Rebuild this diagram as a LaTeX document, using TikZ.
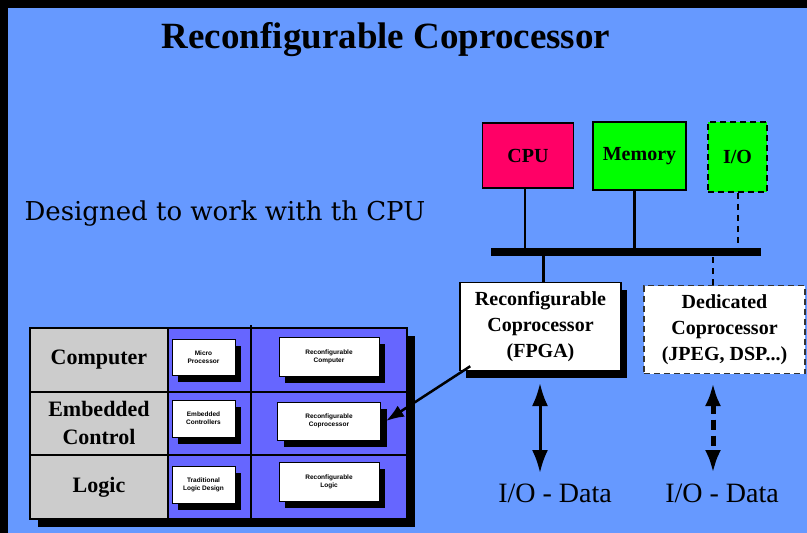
\documentclass[tikz,border=0pt]{standalone}
\usepackage{fontspec}
\setmainfont{Liberation Serif}
\newfontfamily\slabfont{DejaVu Serif}
\newfontfamily\cellfont{Liberation Sans}
\usetikzlibrary{arrows.meta,shadows}
\definecolor{slide}{RGB}{102,153,255}
\definecolor{gridblue}{RGB}{102,102,255}
\definecolor{cpured}{RGB}{255,0,102}
\definecolor{memgreen}{RGB}{0,255,0}
\definecolor{cellgray}{RGB}{204,204,204}

\begin{document}
\begin{tikzpicture}[x=1pt,y=-1pt]
    \tikzstyle{unit}=[draw=black,line width=1.5pt,inner sep=0pt,font=\fontsize{20}{24}\selectfont\bfseries]
    \tikzstyle{blackshadow}=[drop shadow={shadow xshift=6pt,shadow yshift=-7pt,fill=black,opacity=1}]
    \tikzstyle{copro}=[fill=white,draw=black,line width=1.5pt,align=center,inner sep=0pt,minimum width=161pt,minimum height=88pt,font=\fontsize{20}{26}\selectfont\bfseries]
    \tikzstyle{cell}=[fill=white,draw=black,line width=1pt,align=center,inner sep=0pt,font=\cellfont\fontsize{6.5}{8}\selectfont\bfseries,blackshadow]
    \tikzstyle{rowlabel}=[align=center,font=\fontsize{22}{28}\selectfont\bfseries]
    \tikzstyle{fwd}=[draw=black,line width=2.5pt]
    \tikzstyle{dashfwd}=[draw=black,line width=2pt,dash pattern=on 6pt off 5pt]
    \tikzstyle{bidir}=[line width=3pt,{Latex[length=23pt,width=16pt]}-{Latex[length=23pt,width=16pt]}]

    \def\midx{203.5}
    \def\rightx{329}

    % slide
    \useasboundingbox (0,0) rectangle (807,533);
    \fill[black] (0,0) rectangle (807,533);
    \fill[slide] (8,8) rectangle (807,533);

    \node[font=\fontsize{37}{40}\selectfont\bfseries] (title) at (386,40) {Reconfigurable Coprocessor};
    \node[anchor=west,font=\slabfont\fontsize{26}{30}\selectfont] (note) at (21,214) {Designed to work with th CPU};

    % system bus
    \node[unit,fill=cpured,minimum width=91pt,minimum height=65pt] (cpu) at (528,155.5) {CPU};
    \node[unit,fill=memgreen,minimum width=93pt,minimum height=68pt] (mem) at (639.5,156) {Memory};
    \node[unit,fill=memgreen,dash pattern=on 6pt off 4pt,minimum width=59pt,minimum height=70pt] (io) at (737.5,157) {I/O};
    \node[fill=black,minimum width=270pt,minimum height=8pt,inner sep=0pt] (bus) at (626,252) {};

    \node[copro,blackshadow] (rc) at (540.5,326.5) {Reconfigurable\\Coprocessor\\(FPGA)};
    \node[copro,draw=black!80,dash pattern=on 6pt off 4pt] (dc) at (724.5,329.5) {Dedicated\\Coprocessor\\(JPEG, DSP...)};

    \draw[fwd] ([xshift=-3pt]cpu.south) -- ([xshift=-3pt]cpu.south |- bus.north);
    \draw[fwd] ([xshift=-5pt]mem.south) -- ([xshift=-5pt]mem.south |- bus.north);
    \draw[dashfwd] (io.south) -- (io.south |- bus.north);
    \draw[fwd] ([xshift=3pt]rc.north) -- ([xshift=3pt]rc.north |- bus.south);
    \draw[dashfwd] ([xshift=-12pt]dc.north) -- ([xshift=-12pt]dc.north |- bus.south);

    % i/o data
    \node[font=\fontsize{28}{32}\selectfont] (iod1) at (555,493) {I/O - Data};
    \node[font=\fontsize{28}{32}\selectfont] (iod2) at (722,493) {I/O - Data};
    \coordinate (a1) at (540,383);
    \coordinate (b1) at (540,473);
    \coordinate (a2) at (713,383);
    \coordinate (b2) at (713,473);
    \draw[bidir] (a1) -- (b1);
    \draw[bidir,line width=5pt,dash pattern=on 10pt off 6pt] (a2) -- (b2);

    % application table
    \fill[black] (38,336) rectangle (415,527);
    \fill[gridblue] (30,328) rectangle (407,519);
    \fill[cellgray] (30,328) rectangle (168,519);
    \draw[line width=1.5pt] (30,328) rectangle (407,519);
    \draw[line width=1.5pt] (168,328) -- (168,519);
    \draw[line width=1.5pt] (251,325) -- (251,519);
    \draw[line width=1.5pt] (30,392) -- (407,392);
    \draw[line width=1.5pt] (30,455) -- (407,455);

    \node[rowlabel] (comp) at (99,360) {Computer};
    \node[rowlabel] (emb) at (99,423) {Embedded\\Control};
    \node[rowlabel] (logic) at (99,487) {Logic};

    \node[cell,minimum width=63pt,minimum height=36pt] (mp) at (\midx,357) {Micro\\Processor};
    \node[cell,minimum width=63pt,minimum height=37pt] (ec) at (\midx,418.5) {Embedded\\Controllers};
    \node[cell,minimum width=63pt,minimum height=37pt] (tl) at (\midx,484.5) {Traditional\\Logic Design};
    \node[cell,minimum width=100pt,minimum height=39pt] (rcomp) at (\rightx,356.5) {Reconfigurable\\Computer};
    \node[cell,minimum width=103pt,minimum height=38pt] (rcop) at (\rightx,421) {Reconfigurable\\Coprocessor};
    \node[cell,minimum width=100pt,minimum height=39pt] (rlog) at (\rightx,481.5) {Reconfigurable\\Logic};

    \draw[line width=2.5pt,-{Latex[length=18pt,width=13pt]}] ([shift={(11pt,5pt)}]rc.south west) -- ([xshift=5pt]rcop.east);

\end{tikzpicture}
\end{document}
